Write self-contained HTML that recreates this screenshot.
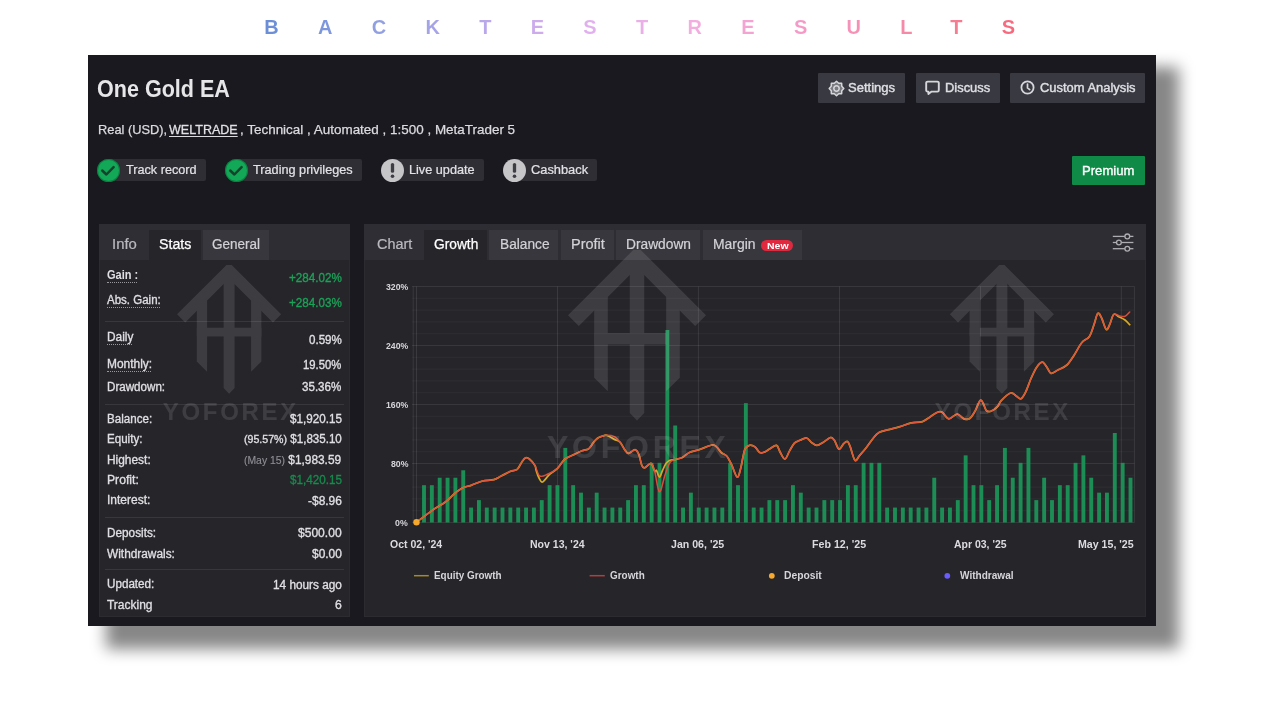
<!DOCTYPE html>
<html lang="en">
<head>
<meta charset="utf-8">
<title>Backtest Results - One Gold EA</title>
<style>
*{box-sizing:border-box;margin:0;padding:0}
html,body{width:1280px;height:720px;overflow:hidden;background:#ffffff}
body{position:relative;font-family:"Liberation Sans",Arial,sans-serif}
.abs,.t,.title,.dot,.box{position:absolute}
.t{white-space:pre;line-height:0;display:block;transform-origin:0 0}
.t u{text-decoration:underline;text-underline-offset:1.5px;-webkit-text-stroke:.3px #dcdce0}
.title{white-space:pre;line-height:0;font-weight:700;
  background:linear-gradient(90deg,#6a8ed6 0px,#8f9fe0 110px,#b7a7ea 215px,#e3b0ee 330px,#f3aee0 425px,#f59ac6 535px,#f58aa8 640px,#f67a8e 700px,#f7687c 751px);
  -webkit-background-clip:text;background-clip:text;color:transparent;height:40px;padding-top:20px;margin-top:-20px}
.panel{left:88px;top:55px;width:1068px;height:571px;background:#1a191f}
.shadow{left:106px;top:67px;width:1073.2px;height:581.5px;background:rgba(0,0,0,.47);filter:blur(7.5px)}
.inner{position:absolute;left:0;top:0;width:1280px;height:720px;filter:blur(.55px);clip-path:inset(56px 125px 95px 89px)}
.card{background:#26252a;box-shadow:inset 0 0 0 1px rgba(255,255,255,.03)}
.band{background:#2e2d33}
.tab{top:229.7px;height:30.3px}
.tab.off{background:#38373d}
.tab.dim{background:#2f2e34}
.tab.on{background:#26252a}
.btn{top:72.7px;height:30.8px;background:#393941;border-radius:1px}
.badge{top:159.2px;height:22.2px;background:#2f2e35;border-radius:0 2px 2px 0}
.circ{top:158.8px;width:23px;height:23px;border-radius:50%}
.sep{left:104.5px;width:239px;height:1px;background:rgba(255,255,255,.085)}
.dot{height:0;border-top:1px dotted rgba(230,230,234,.6)}
svg.chart{position:absolute;left:0;top:0;font-family:"Liberation Sans",Arial,sans-serif}
svg.ic{position:absolute;overflow:visible}
</style>
</head>
<body>
<h1 class="title" style="left:264.20px;top:27.47px;font-size:20px;letter-spacing:39.303px;word-spacing:-44.863px">BACKTEST RESULTS</h1>
<div class="box shadow"></div>
<div class="box panel"></div>
<div class="inner">

<!-- header buttons -->
<div class="box btn" style="left:818.2px;width:87px"></div>
<div class="box btn" style="left:915.8px;width:84.3px"></div>
<div class="box btn" style="left:1010px;width:135px"></div>
<div class="box" style="left:1072.2px;top:155.6px;width:72.8px;height:29.6px;background:#0f8a47;border-radius:1px"></div>

<!-- gear -->
<svg class="ic" style="left:828.5px;top:80.5px" width="15" height="15" viewBox="-7.5 -7.5 15 15">
  <polygon points="0.00,-7.30 2.18,-5.27 5.16,-5.16 5.27,-2.18 7.30,0.00 5.27,2.18 5.16,5.16 2.18,5.27 0.00,7.30 -2.18,5.27 -5.16,5.16 -5.27,2.18 -7.30,0.00 -5.27,-2.18 -5.16,-5.16 -2.18,-5.27" fill="rgba(220,220,226,.4)" stroke="#d6d6dc" stroke-width="1.5" stroke-linejoin="round"/>
  <circle r="2.7" fill="none" stroke="#d6d6dc" stroke-width="1.5"/>
</svg>
<!-- chat -->
<svg class="ic" style="left:925px;top:80px" width="16" height="16" viewBox="0 0 16 16">
  <path d="M2.6 1.6h9.8a1.4 1.4 0 0 1 1.4 1.4v7.2a1.4 1.4 0 0 1-1.4 1.4H6.6L3.4 14v-2.4h-.8a1.4 1.4 0 0 1-1.4-1.4V3a1.4 1.4 0 0 1 1.400-1.400z" fill="none" stroke="#d6d6dc" stroke-width="1.9" stroke-linejoin="round"/>
</svg>
<!-- clock -->
<svg class="ic" style="left:1020.3px;top:80px" width="15" height="15" viewBox="-7.5 -7.5 15 15">
  <circle r="6.1" fill="none" stroke="#d6d6dc" stroke-width="1.8"/>
  <path d="M0-3.4V.4l2.2 1.7" fill="none" stroke="#d6d6dc" stroke-width="1.7" stroke-linecap="round" stroke-linejoin="round"/>
</svg>

<!-- badges -->
<div class="box badge" style="left:109px;width:97px"></div>
<div class="box badge" style="left:236.3px;width:125.7px"></div>
<div class="box badge" style="left:392.8px;width:91.5px"></div>
<div class="box badge" style="left:514.7px;width:82.3px"></div>
<div class="box circ" style="left:97.4px;background:#12a857;box-shadow:inset 0 0 0 1px rgba(0,60,30,.35)"></div>
<div class="box circ" style="left:224.8px;background:#12a857;box-shadow:inset 0 0 0 1px rgba(0,60,30,.35)"></div>
<div class="box circ" style="left:381.3px;background:#c6c6c8"></div>
<div class="box circ" style="left:503.2px;background:#c6c6c8"></div>
<svg class="ic" style="left:97.4px;top:158.8px" width="23" height="23" viewBox="0 0 23 23"><path d="M5.2 11.5l4.2 4 7.2-7.4" fill="none" stroke="#17432c" stroke-width="2.5" stroke-linecap="round" stroke-linejoin="round"/></svg>
<svg class="ic" style="left:224.8px;top:158.8px" width="23" height="23" viewBox="0 0 23 23"><path d="M5.2 11.5l4.2 4 7.2-7.4" fill="none" stroke="#17432c" stroke-width="2.5" stroke-linecap="round" stroke-linejoin="round"/></svg>
<svg class="ic" style="left:381.3px;top:158.8px" width="23" height="23" viewBox="0 0 23 23"><path d="M11.5 5.6v6.6" stroke="#3d3d44" stroke-width="3.3" stroke-linecap="round"/><circle cx="11.5" cy="17.2" r="1.8" fill="#3d3d44"/></svg>
<svg class="ic" style="left:503.2px;top:158.8px" width="23" height="23" viewBox="0 0 23 23"><path d="M11.5 5.6v6.6" stroke="#3d3d44" stroke-width="3.3" stroke-linecap="round"/><circle cx="11.5" cy="17.2" r="1.8" fill="#3d3d44"/></svg>

<!-- stats card -->
<div class="box card" style="left:99px;top:224.2px;width:251px;height:393.3px"></div>
<div class="box band" style="left:99px;top:224.2px;width:251px;height:35.8px"></div>
<div class="box tab dim" style="left:99px;width:50.2px"></div>
<div class="box tab on" style="left:149.2px;width:51.5px"></div>
<div class="box tab off" style="left:202.9px;width:66.2px"></div>
<div class="box sep" style="top:320.6px"></div>
<div class="box sep" style="top:404.4px"></div>
<div class="box sep" style="top:517px"></div>
<div class="box sep" style="top:568.6px"></div>

<!-- chart card -->
<div class="box card" style="left:363.7px;top:224.2px;width:782.3px;height:393.3px"></div>
<div class="box band" style="left:363.7px;top:224.2px;width:782.3px;height:35.8px"></div>
<div class="box tab dim" style="left:363.7px;width:60.2px"></div>
<div class="box tab on" style="left:423.9px;width:63.5px"></div>
<div class="box tab off" style="left:488.9px;width:69.6px"></div>
<div class="box tab off" style="left:560.6px;width:53.2px"></div>
<div class="box tab off" style="left:616.1px;width:84.2px"></div>
<div class="box tab off" style="left:703px;width:99.3px"></div>
<div class="box" style="left:761px;top:239.7px;width:32.2px;height:11.8px;border-radius:6px;background:#e0283e"></div>

<svg class="chart" width="1280" height="720" viewBox="0 0 1280 720">
<g stroke-width="1" shape-rendering="auto"><line x1="412" x2="1134.4" y1="286.50" y2="286.50" stroke="#fff" stroke-opacity="0.085"/><line x1="412" x2="1134.4" y1="298.30" y2="298.30" stroke="#fff" stroke-opacity="0.045"/><line x1="412" x2="1134.4" y1="310.10" y2="310.10" stroke="#fff" stroke-opacity="0.045"/><line x1="412" x2="1134.4" y1="321.90" y2="321.90" stroke="#fff" stroke-opacity="0.045"/><line x1="412" x2="1134.4" y1="333.70" y2="333.70" stroke="#fff" stroke-opacity="0.045"/><line x1="412" x2="1134.4" y1="345.50" y2="345.50" stroke="#fff" stroke-opacity="0.085"/><line x1="412" x2="1134.4" y1="357.30" y2="357.30" stroke="#fff" stroke-opacity="0.045"/><line x1="412" x2="1134.4" y1="369.10" y2="369.10" stroke="#fff" stroke-opacity="0.045"/><line x1="412" x2="1134.4" y1="380.90" y2="380.90" stroke="#fff" stroke-opacity="0.045"/><line x1="412" x2="1134.4" y1="392.70" y2="392.70" stroke="#fff" stroke-opacity="0.045"/><line x1="412" x2="1134.4" y1="404.50" y2="404.50" stroke="#fff" stroke-opacity="0.085"/><line x1="412" x2="1134.4" y1="416.30" y2="416.30" stroke="#fff" stroke-opacity="0.045"/><line x1="412" x2="1134.4" y1="428.10" y2="428.10" stroke="#fff" stroke-opacity="0.045"/><line x1="412" x2="1134.4" y1="439.90" y2="439.90" stroke="#fff" stroke-opacity="0.045"/><line x1="412" x2="1134.4" y1="451.70" y2="451.70" stroke="#fff" stroke-opacity="0.045"/><line x1="412" x2="1134.4" y1="463.50" y2="463.50" stroke="#fff" stroke-opacity="0.085"/><line x1="412" x2="1134.4" y1="475.30" y2="475.30" stroke="#fff" stroke-opacity="0.045"/><line x1="412" x2="1134.4" y1="487.10" y2="487.10" stroke="#fff" stroke-opacity="0.045"/><line x1="412" x2="1134.4" y1="498.90" y2="498.90" stroke="#fff" stroke-opacity="0.045"/><line x1="412" x2="1134.4" y1="510.70" y2="510.70" stroke="#fff" stroke-opacity="0.045"/><line x1="412" x2="1134.4" y1="522.50" y2="522.50" stroke="#fff" stroke-opacity="0.085"/><line x1="413.2" x2="413.2" y1="286.5" y2="522.5" stroke="#fff" stroke-opacity="0.095"/><line x1="416.5" x2="416.5" y1="286.5" y2="522.5" stroke="#fff" stroke-opacity="0.095"/><line x1="557.5" x2="557.5" y1="286.5" y2="522.5" stroke="#fff" stroke-opacity="0.095"/><line x1="698.4" x2="698.4" y1="286.5" y2="522.5" stroke="#fff" stroke-opacity="0.095"/><line x1="839.5" x2="839.5" y1="286.5" y2="522.5" stroke="#fff" stroke-opacity="0.095"/><line x1="980.5" x2="980.5" y1="286.5" y2="522.5" stroke="#fff" stroke-opacity="0.095"/><line x1="1121.3" x2="1121.3" y1="286.5" y2="522.5" stroke="#fff" stroke-opacity="0.095"/><line x1="1134.4" x2="1134.4" y1="286.5" y2="522.5" stroke="#fff" stroke-opacity="0.095"/></g>
<g fill="#1c8d55"><rect x="422.05" y="485.20" width="3.9" height="37.30"/><rect x="429.90" y="485.20" width="3.9" height="37.30"/><rect x="437.75" y="477.74" width="3.9" height="44.76"/><rect x="445.60" y="477.74" width="3.9" height="44.76"/><rect x="453.45" y="477.74" width="3.9" height="44.76"/><rect x="461.30" y="470.28" width="3.9" height="52.22"/><rect x="469.15" y="507.58" width="3.9" height="14.92"/><rect x="477.00" y="500.12" width="3.9" height="22.38"/><rect x="484.85" y="507.58" width="3.9" height="14.92"/><rect x="492.70" y="507.58" width="3.9" height="14.92"/><rect x="500.55" y="507.58" width="3.9" height="14.92"/><rect x="508.40" y="507.58" width="3.9" height="14.92"/><rect x="516.25" y="507.58" width="3.9" height="14.92"/><rect x="524.10" y="507.58" width="3.9" height="14.92"/><rect x="531.95" y="507.58" width="3.9" height="14.92"/><rect x="539.80" y="500.12" width="3.9" height="22.38"/><rect x="547.65" y="485.20" width="3.9" height="37.30"/><rect x="555.50" y="485.20" width="3.9" height="37.30"/><rect x="563.35" y="447.90" width="3.9" height="74.60"/><rect x="571.20" y="485.20" width="3.9" height="37.30"/><rect x="579.05" y="492.66" width="3.9" height="29.84"/><rect x="586.90" y="507.58" width="3.9" height="14.92"/><rect x="594.75" y="492.66" width="3.9" height="29.84"/><rect x="602.60" y="507.58" width="3.9" height="14.92"/><rect x="610.45" y="507.58" width="3.9" height="14.92"/><rect x="618.30" y="507.58" width="3.9" height="14.92"/><rect x="626.15" y="500.12" width="3.9" height="22.38"/><rect x="634.00" y="485.20" width="3.9" height="37.30"/><rect x="641.85" y="485.20" width="3.9" height="37.30"/><rect x="649.70" y="462.82" width="3.9" height="59.68"/><rect x="657.55" y="462.82" width="3.9" height="59.68"/><rect x="665.40" y="330.03" width="3.9" height="192.47"/><rect x="673.25" y="425.52" width="3.9" height="96.98"/><rect x="681.10" y="507.58" width="3.9" height="14.92"/><rect x="688.95" y="492.66" width="3.9" height="29.84"/><rect x="696.80" y="507.58" width="3.9" height="14.92"/><rect x="704.65" y="507.58" width="3.9" height="14.92"/><rect x="712.50" y="507.58" width="3.9" height="14.92"/><rect x="720.35" y="507.58" width="3.9" height="14.92"/><rect x="728.20" y="462.82" width="3.9" height="59.68"/><rect x="736.05" y="485.20" width="3.9" height="37.30"/><rect x="743.90" y="403.14" width="3.9" height="119.36"/><rect x="751.75" y="507.58" width="3.9" height="14.92"/><rect x="759.60" y="507.58" width="3.9" height="14.92"/><rect x="767.45" y="500.12" width="3.9" height="22.38"/><rect x="775.30" y="500.12" width="3.9" height="22.38"/><rect x="783.15" y="500.12" width="3.9" height="22.38"/><rect x="791.00" y="485.20" width="3.9" height="37.30"/><rect x="798.85" y="492.66" width="3.9" height="29.84"/><rect x="806.70" y="507.58" width="3.9" height="14.92"/><rect x="814.55" y="507.58" width="3.9" height="14.92"/><rect x="822.40" y="500.12" width="3.9" height="22.38"/><rect x="830.25" y="500.12" width="3.9" height="22.38"/><rect x="838.10" y="500.12" width="3.9" height="22.38"/><rect x="845.95" y="485.20" width="3.9" height="37.30"/><rect x="853.80" y="485.20" width="3.9" height="37.30"/><rect x="861.65" y="462.82" width="3.9" height="59.68"/><rect x="869.50" y="462.82" width="3.9" height="59.68"/><rect x="877.35" y="462.82" width="3.9" height="59.68"/><rect x="885.20" y="507.58" width="3.9" height="14.92"/><rect x="893.05" y="507.58" width="3.9" height="14.92"/><rect x="900.90" y="507.58" width="3.9" height="14.92"/><rect x="908.75" y="507.58" width="3.9" height="14.92"/><rect x="916.60" y="507.58" width="3.9" height="14.92"/><rect x="924.45" y="507.58" width="3.9" height="14.92"/><rect x="932.30" y="477.74" width="3.9" height="44.76"/><rect x="940.15" y="507.58" width="3.9" height="14.92"/><rect x="948.00" y="507.58" width="3.9" height="14.92"/><rect x="955.85" y="500.12" width="3.9" height="22.38"/><rect x="963.70" y="455.36" width="3.9" height="67.14"/><rect x="971.55" y="485.20" width="3.9" height="37.30"/><rect x="979.40" y="485.20" width="3.9" height="37.30"/><rect x="987.25" y="500.12" width="3.9" height="22.38"/><rect x="995.10" y="485.20" width="3.9" height="37.30"/><rect x="1002.95" y="447.90" width="3.9" height="74.60"/><rect x="1010.80" y="477.74" width="3.9" height="44.76"/><rect x="1018.65" y="462.82" width="3.9" height="59.68"/><rect x="1026.50" y="447.90" width="3.9" height="74.60"/><rect x="1034.35" y="500.12" width="3.9" height="22.38"/><rect x="1042.20" y="477.74" width="3.9" height="44.76"/><rect x="1050.05" y="500.12" width="3.9" height="22.38"/><rect x="1057.90" y="485.20" width="3.9" height="37.30"/><rect x="1065.75" y="485.20" width="3.9" height="37.30"/><rect x="1073.60" y="462.82" width="3.9" height="59.68"/><rect x="1081.45" y="455.36" width="3.9" height="67.14"/><rect x="1089.30" y="477.74" width="3.9" height="44.76"/><rect x="1097.15" y="492.66" width="3.9" height="29.84"/><rect x="1105.00" y="492.66" width="3.9" height="29.84"/><rect x="1112.85" y="432.98" width="3.9" height="89.52"/><rect x="1120.70" y="462.82" width="3.9" height="59.68"/><rect x="1128.55" y="477.74" width="3.9" height="44.76"/></g>
<path d="M416.5 522.3C419.1 520.3 427.1 514.0 431.9 510.6C436.6 507.2 441.2 505.0 445.0 502.2C448.8 499.4 451.4 496.2 454.4 493.8C457.4 491.3 460.0 489.2 462.8 487.8C465.6 486.3 468.0 486.4 471.2 485.3C474.5 484.2 478.8 481.9 482.5 481.0C486.2 480.1 490.6 480.5 493.8 479.7C496.9 478.9 498.4 477.4 501.2 476.0C504.1 474.6 507.9 472.4 510.6 471.2C513.3 470.1 515.3 471.0 517.2 469.4C519.1 467.8 520.5 463.8 521.9 461.9C523.3 460.0 524.4 458.2 525.6 457.8C526.9 457.3 527.8 457.7 529.4 459.0C531.0 460.3 533.9 463.7 535.0 465.6C536.1 467.5 535.5 468.4 536.2 470.5C536.9 472.6 538.0 476.1 539.0 478.0C540.0 479.9 540.9 482.0 542.0 482.2C543.1 482.4 544.2 480.5 545.5 479.2C546.8 477.9 547.6 476.1 549.6 474.3C551.6 472.5 554.9 470.9 557.5 468.4C560.1 465.8 562.2 461.3 565.0 459.0C567.8 456.7 571.6 455.8 574.4 454.4C577.2 453.0 579.7 451.7 582.0 450.8C584.3 449.9 586.5 450.0 588.0 449.2C589.5 448.4 590.1 447.2 591.0 446.0C591.9 444.8 592.5 443.5 593.6 442.2C594.7 440.9 596.2 439.3 597.5 438.3C598.8 437.3 599.9 436.9 601.5 436.4C603.1 435.9 604.8 434.8 606.9 435.3C609.0 435.8 612.2 438.2 614.4 439.4C616.6 440.5 618.3 440.5 620.0 442.2C621.7 443.9 623.3 447.8 624.7 449.7C626.1 451.6 626.7 453.4 628.4 453.4C630.1 453.4 633.3 449.5 635.0 449.7C636.7 449.9 637.6 451.9 638.8 454.4C639.9 456.9 640.7 462.4 641.6 464.7C642.5 466.9 642.8 468.1 644.4 467.9C646.0 467.7 649.3 462.8 651.0 463.4C652.7 464.0 653.8 470.1 654.7 471.2C655.6 472.4 655.7 469.5 656.5 470.5C657.3 471.5 658.4 477.1 659.4 477.1C660.4 477.1 661.4 472.8 662.5 470.5C663.6 468.2 664.8 465.3 666.0 463.6C667.2 461.9 668.6 460.9 670.0 460.2C671.4 459.5 672.4 460.0 674.4 459.6C676.4 459.2 679.4 458.9 681.9 457.8C684.4 456.6 686.3 453.9 689.4 452.5C692.5 451.1 696.9 450.4 700.6 449.1C704.4 447.9 709.2 445.4 711.9 445.0C714.6 444.6 715.0 445.6 716.6 446.9C718.2 448.1 719.5 450.9 721.2 452.5C723.0 454.1 725.2 454.2 726.9 456.2C728.6 458.3 729.9 461.2 731.6 464.7C733.3 468.2 735.7 476.8 737.2 477.2C738.8 477.7 739.6 472.1 740.9 467.5C742.1 462.9 743.3 453.4 744.7 449.7C746.1 446.0 747.7 445.9 749.4 445.4C751.1 444.9 753.3 445.7 755.0 446.9C756.7 448.1 758.1 451.6 759.7 452.5C761.3 453.4 762.7 452.7 764.4 452.1C766.1 451.5 768.0 449.9 770.0 448.8C772.0 447.6 774.9 444.8 776.6 445.4C778.3 446.0 778.9 450.2 780.3 452.5C781.7 454.8 783.4 459.3 785.0 459.0C786.6 458.7 788.1 453.2 789.7 450.6C791.3 448.0 792.7 444.8 794.4 443.1C796.1 441.4 798.0 441.2 800.0 440.3C802.0 439.4 804.7 437.7 806.6 438.0C808.5 438.3 809.5 441.0 811.2 442.2C813.0 443.4 814.9 445.4 816.9 445.4C818.9 445.4 821.1 443.5 823.4 442.2C825.7 440.9 828.8 437.8 830.6 437.5C832.4 437.2 833.0 438.4 834.4 440.3C835.8 442.2 837.4 448.6 839.0 449.1C840.6 449.6 842.3 444.8 843.8 443.5C845.2 442.2 846.4 441.0 847.5 441.6C848.6 442.2 849.0 443.8 850.3 446.9C851.5 450.0 853.4 459.0 855.0 460.4C856.6 461.8 857.8 457.4 859.7 455.3C861.6 453.2 863.9 450.8 866.2 447.8C868.6 444.8 871.6 440.1 873.8 437.5C875.9 434.9 876.9 433.6 879.4 432.2C881.9 430.9 885.3 430.5 888.8 429.6C892.2 428.7 896.2 427.7 900.0 426.6C903.8 425.5 907.5 423.7 911.2 422.9C915.0 422.1 919.4 422.6 922.5 421.6C925.6 420.6 927.5 418.5 930.0 416.9C932.5 415.3 935.5 413.0 937.5 412.2C939.5 411.4 940.3 411.1 942.2 412.2C944.1 413.3 946.2 418.4 948.8 418.8C951.2 419.1 954.7 414.0 957.2 414.0C959.7 414.0 961.7 418.0 963.8 418.8C965.8 419.5 967.5 420.0 969.4 418.8C971.3 417.5 973.3 414.2 975.0 411.2C976.7 408.3 978.5 402.6 979.7 401.0C981.0 399.4 981.4 400.3 982.5 401.9C983.6 403.4 984.8 408.7 986.2 410.3C987.7 411.9 989.1 411.9 991.0 411.2C992.9 410.6 995.8 408.4 997.5 406.6C999.2 404.8 999.1 402.9 1001.2 400.6C1003.4 398.3 1008.1 393.8 1010.6 393.0C1013.1 392.2 1014.5 395.0 1016.2 396.0C1018.0 397.0 1019.4 399.4 1021.0 398.8C1022.6 398.1 1023.9 395.7 1025.6 392.2C1027.3 388.7 1029.4 382.2 1031.2 378.0C1033.1 373.8 1035.0 369.5 1036.9 366.9C1038.8 364.3 1040.8 362.0 1042.5 362.2C1044.2 362.4 1045.8 365.9 1047.2 367.8C1048.6 369.7 1049.3 373.0 1051.0 373.4C1052.7 373.8 1054.8 371.6 1057.5 370.2C1060.2 368.9 1064.1 367.6 1066.9 365.0C1069.7 362.4 1071.9 358.4 1074.4 354.7C1076.9 350.9 1079.4 345.5 1081.9 342.5C1084.4 339.5 1087.4 339.5 1089.4 336.5C1091.4 333.5 1092.6 328.6 1094.0 324.7C1095.4 320.8 1096.5 314.5 1097.8 313.4C1099.1 312.3 1100.2 315.3 1101.6 318.0C1103.0 320.7 1104.8 328.4 1106.2 329.4C1107.7 330.4 1108.8 326.2 1110.0 323.8C1111.2 321.2 1112.2 315.5 1113.8 314.4C1115.3 313.3 1117.5 316.1 1119.4 317.0C1121.3 317.9 1123.3 318.7 1125.0 320.0C1126.7 321.3 1128.9 323.9 1129.7 324.7" fill="none" stroke="#d4aa2a" stroke-width="1.75" stroke-linejoin="round" stroke-linecap="round"/>
<path d="M416.5 522.3C419.1 520.3 427.1 514.0 431.9 510.6C436.6 507.2 441.2 505.0 445.0 502.2C448.8 499.4 451.4 496.2 454.4 493.8C457.4 491.3 460.0 489.2 462.8 487.8C465.6 486.3 468.0 486.4 471.2 485.3C474.5 484.2 478.8 481.9 482.5 481.0C486.2 480.1 490.6 480.5 493.8 479.7C496.9 478.9 498.4 477.4 501.2 476.0C504.1 474.6 507.9 472.4 510.6 471.2C513.3 470.1 515.3 471.0 517.2 469.4C519.1 467.8 520.5 463.8 521.9 461.9C523.3 460.0 524.4 458.2 525.6 457.8C526.9 457.3 527.8 457.7 529.4 459.0C531.0 460.3 533.3 462.8 535.0 465.6C536.7 468.4 537.5 474.6 539.7 476.0C541.9 477.4 545.0 475.3 548.0 474.0C551.0 472.7 554.7 470.9 557.5 468.4C560.3 465.9 562.2 461.3 565.0 459.0C567.8 456.7 571.6 455.8 574.4 454.4C577.2 453.0 579.7 451.7 582.0 450.8C584.3 449.9 586.5 450.0 588.0 449.2C589.5 448.4 590.1 447.2 591.0 446.0C591.9 444.8 592.5 443.5 593.6 442.2C594.7 440.9 596.2 439.3 597.5 438.3C598.8 437.3 599.9 436.9 601.5 436.4C603.1 435.9 604.8 435.3 606.9 435.3C609.0 435.3 612.2 435.5 614.4 436.6C616.6 437.8 618.3 440.0 620.0 442.2C621.7 444.4 623.3 447.8 624.7 449.7C626.1 451.6 626.7 453.4 628.4 453.4C630.1 453.4 633.3 449.5 635.0 449.7C636.7 449.9 637.6 451.9 638.8 454.4C639.9 456.9 640.7 462.4 641.6 464.7C642.5 466.9 642.8 468.1 644.4 467.9C646.0 467.7 649.3 462.8 651.0 463.4C652.7 464.0 653.3 466.5 654.7 471.2C656.1 476.0 657.7 491.3 659.4 491.9C661.1 492.5 663.3 479.9 665.0 475.0C666.7 470.1 668.1 465.4 669.7 462.8C671.3 460.2 672.4 460.4 674.4 459.6C676.4 458.8 679.4 458.9 681.9 457.8C684.4 456.6 686.3 453.9 689.4 452.5C692.5 451.1 696.9 450.4 700.6 449.1C704.4 447.9 709.2 445.4 711.9 445.0C714.6 444.6 715.0 445.6 716.6 446.9C718.2 448.1 719.5 450.9 721.2 452.5C723.0 454.1 725.2 454.2 726.9 456.2C728.6 458.3 729.9 461.2 731.6 464.7C733.3 468.2 735.7 476.8 737.2 477.2C738.8 477.7 739.6 472.1 740.9 467.5C742.1 462.9 743.3 453.4 744.7 449.7C746.1 446.0 747.7 445.9 749.4 445.4C751.1 444.9 753.3 445.7 755.0 446.9C756.7 448.1 758.1 451.6 759.7 452.5C761.3 453.4 762.7 452.7 764.4 452.1C766.1 451.5 768.0 449.9 770.0 448.8C772.0 447.6 774.9 444.8 776.6 445.4C778.3 446.0 778.9 450.2 780.3 452.5C781.7 454.8 783.4 459.3 785.0 459.0C786.6 458.7 788.1 453.2 789.7 450.6C791.3 448.0 792.7 444.8 794.4 443.1C796.1 441.4 798.0 441.2 800.0 440.3C802.0 439.4 804.7 437.7 806.6 438.0C808.5 438.3 809.5 441.0 811.2 442.2C813.0 443.4 814.9 445.4 816.9 445.4C818.9 445.4 821.1 443.5 823.4 442.2C825.7 440.9 828.8 437.8 830.6 437.5C832.4 437.2 833.0 438.4 834.4 440.3C835.8 442.2 837.4 448.6 839.0 449.1C840.6 449.6 842.3 444.8 843.8 443.5C845.2 442.2 846.4 441.0 847.5 441.6C848.6 442.2 849.0 443.8 850.3 446.9C851.5 450.0 853.4 459.0 855.0 460.4C856.6 461.8 857.8 457.4 859.7 455.3C861.6 453.2 863.9 450.8 866.2 447.8C868.6 444.8 871.6 440.1 873.8 437.5C875.9 434.9 876.9 433.6 879.4 432.2C881.9 430.9 885.3 430.5 888.8 429.6C892.2 428.7 896.2 427.7 900.0 426.6C903.8 425.5 907.5 423.7 911.2 422.9C915.0 422.1 919.4 422.6 922.5 421.6C925.6 420.6 927.5 418.5 930.0 416.9C932.5 415.3 935.5 413.0 937.5 412.2C939.5 411.4 940.3 411.1 942.2 412.2C944.1 413.3 946.2 418.4 948.8 418.8C951.2 419.1 954.7 414.0 957.2 414.0C959.7 414.0 961.7 418.0 963.8 418.8C965.8 419.5 967.5 420.0 969.4 418.8C971.3 417.5 973.3 414.2 975.0 411.2C976.7 408.3 978.5 402.6 979.7 401.0C981.0 399.4 981.4 400.3 982.5 401.9C983.6 403.4 984.8 408.7 986.2 410.3C987.7 411.9 989.1 411.9 991.0 411.2C992.9 410.6 995.8 408.4 997.5 406.6C999.2 404.8 999.1 402.9 1001.2 400.6C1003.4 398.3 1008.1 393.8 1010.6 393.0C1013.1 392.2 1014.5 395.0 1016.2 396.0C1018.0 397.0 1019.4 399.4 1021.0 398.8C1022.6 398.1 1023.9 395.7 1025.6 392.2C1027.3 388.7 1029.4 382.2 1031.2 378.0C1033.1 373.8 1035.0 369.5 1036.9 366.9C1038.8 364.3 1040.8 362.0 1042.5 362.2C1044.2 362.4 1045.8 365.9 1047.2 367.8C1048.6 369.7 1049.3 373.0 1051.0 373.4C1052.7 373.8 1054.8 371.6 1057.5 370.2C1060.2 368.9 1064.1 367.6 1066.9 365.0C1069.7 362.4 1071.9 358.4 1074.4 354.7C1076.9 350.9 1079.4 345.5 1081.9 342.5C1084.4 339.5 1087.4 339.5 1089.4 336.5C1091.4 333.5 1092.6 328.6 1094.0 324.7C1095.4 320.8 1096.5 314.5 1097.8 313.4C1099.1 312.3 1100.2 315.3 1101.6 318.0C1103.0 320.7 1104.8 328.4 1106.2 329.4C1107.7 330.4 1108.8 326.2 1110.0 323.8C1111.2 321.2 1112.2 315.7 1113.8 314.4C1115.3 313.1 1117.5 315.6 1119.4 315.9C1121.3 316.2 1123.3 316.9 1125.0 316.2C1126.7 315.6 1128.9 312.7 1129.7 312.0" fill="none" stroke="#e2503b" stroke-opacity=".95" stroke-width="1.5" stroke-linejoin="round" stroke-linecap="round"/>
<circle cx="416.5" cy="522.3" r="3.2" fill="#f6a92c"/>
<line x1="414" x2="428.8" y1="575.7" y2="575.7" stroke="#a38c22" stroke-width="1.5"/>
<line x1="589.6" x2="604.8" y1="575.7" y2="575.7" stroke="#b53e3b" stroke-width="1.5"/>
<circle cx="771.8" cy="575.8" r="2.9" fill="#f6a92c"/>
<circle cx="947.3" cy="575.8" r="2.9" fill="#6a5cff"/>
<g stroke="#adadb1" stroke-width="1.3" fill="#2e2d33"><line x1="1112.8" x2="1133.4" y1="236.4" y2="236.4"/><line x1="1112.8" x2="1133.4" y1="242.5" y2="242.5"/><line x1="1112.8" x2="1133.4" y1="248.7" y2="248.7"/><circle cx="1127.3" cy="236.4" r="2.4"/><circle cx="1118.9" cy="242.5" r="2.4"/><circle cx="1127.3" cy="248.7" r="2.4"/></g>
</svg>
<i class="dot" style="left:107.2px;top:281.9px;width:30.0px"></i><i class="dot" style="left:107.2px;top:307.0px;width:52.5px"></i><i class="dot" style="left:107.2px;top:343.8px;width:25.2px"></i><i class="dot" style="left:107.2px;top:370.9px;width:43.9px"></i>
<span class="t" style="left:96.92px;top:89.18px;font-size:24px;font-weight:700;color:#e6e6e8;transform:scaleX(0.8979);">One Gold EA</span>
<span class="t" style="left:97.86px;top:130.20px;font-size:13px;font-weight:400;color:#dcdce0;transform:scaleX(0.9860);-webkit-text-stroke:.25px #dcdce0;">Real (USD),</span>
<span class="t" style="left:168.77px;top:130.20px;font-size:13px;font-weight:400;color:#e6e6ea;transform:scaleX(0.9640);"><u>WELTRADE</u></span>
<span class="t" style="left:239.53px;top:130.20px;font-size:13px;font-weight:400;color:#dcdce0;transform:scaleX(1.0345);-webkit-text-stroke:.25px #dcdce0;">, Technical , Automated , 1:500 , MetaTrader 5</span>
<span class="t" style="left:125.67px;top:170.10px;font-size:13px;font-weight:400;color:#e2e2e6;transform:scaleX(0.9740);-webkit-text-stroke:.22px #e2e2e6;">Track record</span>
<span class="t" style="left:252.97px;top:170.10px;font-size:13px;font-weight:400;color:#e2e2e6;transform:scaleX(0.9763);-webkit-text-stroke:.22px #e2e2e6;">Trading privileges</span>
<span class="t" style="left:409.27px;top:170.10px;font-size:13px;font-weight:400;color:#e2e2e6;transform:scaleX(0.9757);-webkit-text-stroke:.22px #e2e2e6;">Live update</span>
<span class="t" style="left:531.06px;top:170.10px;font-size:13px;font-weight:400;color:#e2e2e6;transform:scaleX(0.9877);-webkit-text-stroke:.22px #e2e2e6;">Cashback</span>
<span class="t" style="left:848.05px;top:88.10px;font-size:13px;font-weight:400;color:#dedee4;transform:scaleX(1.0025);-webkit-text-stroke:.45px #dedee4;">Settings</span>
<span class="t" style="left:944.75px;top:88.10px;font-size:13px;font-weight:400;color:#dedee4;transform:scaleX(0.9931);-webkit-text-stroke:.45px #dedee4;">Discuss</span>
<span class="t" style="left:1039.85px;top:88.10px;font-size:13px;font-weight:400;color:#dedee4;transform:scaleX(0.9938);-webkit-text-stroke:.45px #dedee4;">Custom Analysis</span>
<span class="t" style="left:1082.05px;top:170.50px;font-size:13px;font-weight:400;color:#ffffff;transform:scaleX(1.0074);-webkit-text-stroke:.35px #fff;">Premium</span>
<span class="t" style="left:112.46px;top:244.05px;font-size:14px;font-weight:400;color:#b9b9bf;transform:scaleX(1.0617);-webkit-text-stroke:.22px #b9b9bf;">Info</span>
<span class="t" style="left:158.79px;top:244.05px;font-size:14px;font-weight:400;color:#ffffff;transform:scaleX(1.0123);-webkit-text-stroke:.25px #fff;">Stats</span>
<span class="t" style="left:212.43px;top:244.05px;font-size:14px;font-weight:400;color:#d2d2d6;transform:scaleX(0.9636);-webkit-text-stroke:.22px #d2d2d6;">General</span>
<span class="t" style="left:377.28px;top:244.05px;font-size:14px;font-weight:400;color:#b9b9bf;transform:scaleX(1.0311);-webkit-text-stroke:.22px #b9b9bf;">Chart</span>
<span class="t" style="left:433.51px;top:244.05px;font-size:14px;font-weight:400;color:#ffffff;transform:scaleX(0.9817);-webkit-text-stroke:.25px #fff;">Growth</span>
<span class="t" style="left:499.82px;top:244.05px;font-size:14px;font-weight:400;color:#d2d2d6;transform:scaleX(0.9784);-webkit-text-stroke:.22px #d2d2d6;">Balance</span>
<span class="t" style="left:570.88px;top:244.05px;font-size:14px;font-weight:400;color:#d2d2d6;transform:scaleX(1.0340);-webkit-text-stroke:.22px #d2d2d6;">Profit</span>
<span class="t" style="left:625.71px;top:244.05px;font-size:14px;font-weight:400;color:#d2d2d6;transform:scaleX(0.9828);-webkit-text-stroke:.22px #d2d2d6;">Drawdown</span>
<span class="t" style="left:712.70px;top:244.05px;font-size:14px;font-weight:400;color:#d2d2d6;transform:scaleX(0.9954);-webkit-text-stroke:.22px #d2d2d6;">Margin</span>
<span class="t" style="left:766.77px;top:245.61px;font-size:9.5px;font-weight:700;color:#ffffff;transform:scaleX(1.1076);">New</span>
<span class="t" style="left:106.65px;top:274.74px;font-size:12px;font-weight:700;color:#e0e0e4;transform:scaleX(0.9172);">Gain :</span>
<span class="t" style="left:288.72px;top:278.04px;font-size:12px;font-weight:400;color:#1ba258;transform:scaleX(0.9708);-webkit-text-stroke:.32px #1ba258;">+284.02%</span>
<span class="t" style="left:106.62px;top:299.84px;font-size:12px;font-weight:400;color:#e0e0e4;transform:scaleX(0.9593);-webkit-text-stroke:.3px #e0e0e4;">Abs. Gain:</span>
<span class="t" style="left:288.72px;top:302.74px;font-size:12px;font-weight:400;color:#1ba258;transform:scaleX(0.9708);-webkit-text-stroke:.32px #1ba258;">+284.03%</span>
<span class="t" style="left:106.61px;top:336.64px;font-size:12px;font-weight:400;color:#e0e0e4;transform:scaleX(0.9898);-webkit-text-stroke:.3px #e0e0e4;">Daily</span>
<span class="t" style="left:308.72px;top:339.54px;font-size:12px;font-weight:400;color:#e0e0e4;transform:scaleX(0.9638);-webkit-text-stroke:.32px #e0e0e4;">0.59%</span>
<span class="t" style="left:106.60px;top:363.74px;font-size:12px;font-weight:400;color:#e0e0e4;transform:scaleX(0.9943);-webkit-text-stroke:.3px #e0e0e4;">Monthly:</span>
<span class="t" style="left:303.34px;top:364.84px;font-size:12px;font-weight:400;color:#e0e0e4;transform:scaleX(0.9385);-webkit-text-stroke:.32px #e0e0e4;">19.50%</span>
<span class="t" style="left:106.62px;top:387.24px;font-size:12px;font-weight:400;color:#e0e0e4;transform:scaleX(0.9678);-webkit-text-stroke:.3px #e0e0e4;">Drawdown:</span>
<span class="t" style="left:302.22px;top:387.24px;font-size:12px;font-weight:400;color:#e0e0e4;transform:scaleX(0.9655);-webkit-text-stroke:.32px #e0e0e4;">35.36%</span>
<span class="t" style="left:106.62px;top:418.94px;font-size:12px;font-weight:400;color:#e0e0e4;transform:scaleX(0.9657);-webkit-text-stroke:.3px #e0e0e4;">Balance:</span>
<span class="t" style="left:289.62px;top:419.14px;font-size:12px;font-weight:400;color:#e0e0e4;transform:scaleX(0.9721);-webkit-text-stroke:.32px #e0e0e4;">$1,920.15</span>
<span class="t" style="left:106.62px;top:439.24px;font-size:12px;font-weight:400;color:#e0e0e4;transform:scaleX(0.9649);-webkit-text-stroke:.3px #e0e0e4;">Equity:</span>
<span class="t" style="left:243.72px;top:439.44px;font-size:12px;font-weight:400;color:#e0e0e4;transform:scaleX(0.9649);-webkit-text-stroke:.32px #e0e0e4;"><span style="font-size:11px">(95.57%)</span> $1,835.10</span>
<span class="t" style="left:106.60px;top:459.84px;font-size:12px;font-weight:400;color:#e0e0e4;transform:scaleX(0.9925);-webkit-text-stroke:.3px #e0e0e4;">Highest:</span>
<span class="t" style="left:244.41px;top:460.04px;font-size:12px;font-weight:400;color:#e0e0e4;transform:scaleX(0.9892);-webkit-text-stroke:.32px #e0e0e4;"><span style="font-size:10.5px;color:#8d8d94;-webkit-text-stroke:.15px #8d8d94">(May 15)</span> $1,983.59</span>
<span class="t" style="left:106.59px;top:480.14px;font-size:12px;font-weight:400;color:#e0e0e4;transform:scaleX(1.0146);-webkit-text-stroke:.3px #e0e0e4;">Profit:</span>
<span class="t" style="left:289.62px;top:480.34px;font-size:12px;font-weight:400;color:#178a4d;transform:scaleX(0.9721);-webkit-text-stroke:.32px #178a4d;">$1,420.15</span>
<span class="t" style="left:106.60px;top:500.34px;font-size:12px;font-weight:400;color:#e0e0e4;transform:scaleX(0.9986);-webkit-text-stroke:.3px #e0e0e4;">Interest:</span>
<span class="t" style="left:307.60px;top:500.54px;font-size:12px;font-weight:400;color:#e0e0e4;transform:scaleX(0.9961);-webkit-text-stroke:.32px #e0e0e4;">-$8.96</span>
<span class="t" style="left:106.61px;top:533.04px;font-size:12px;font-weight:400;color:#e0e0e4;transform:scaleX(0.9814);-webkit-text-stroke:.3px #e0e0e4;">Deposits:</span>
<span class="t" style="left:297.90px;top:533.24px;font-size:12px;font-weight:400;color:#e0e0e4;transform:scaleX(1.0048);-webkit-text-stroke:.32px #e0e0e4;">$500.00</span>
<span class="t" style="left:106.61px;top:553.64px;font-size:12px;font-weight:400;color:#e0e0e4;transform:scaleX(0.9885);-webkit-text-stroke:.3px #e0e0e4;">Withdrawals:</span>
<span class="t" style="left:311.60px;top:553.84px;font-size:12px;font-weight:400;color:#e0e0e4;transform:scaleX(0.9956);-webkit-text-stroke:.32px #e0e0e4;">$0.00</span>
<span class="t" style="left:106.62px;top:584.34px;font-size:12px;font-weight:400;color:#e0e0e4;transform:scaleX(0.9712);-webkit-text-stroke:.3px #e0e0e4;">Updated:</span>
<span class="t" style="left:272.61px;top:584.54px;font-size:12px;font-weight:400;color:#e0e0e4;transform:scaleX(0.9834);-webkit-text-stroke:.32px #e0e0e4;">14 hours ago</span>
<span class="t" style="left:106.60px;top:604.54px;font-size:12px;font-weight:400;color:#e0e0e4;transform:scaleX(0.9983);-webkit-text-stroke:.3px #e0e0e4;">Tracking</span>
<span class="t" style="left:334.69px;top:604.74px;font-size:12px;font-weight:400;color:#e0e0e4;transform:scaleX(1.0168);-webkit-text-stroke:.32px #e0e0e4;">6</span>
<span class="t" style="left:385.87px;top:286.68px;font-size:9px;font-weight:700;color:#d6d6da;transform:scaleX(0.9639);">320%</span>
<span class="t" style="left:385.87px;top:346.18px;font-size:9px;font-weight:700;color:#d6d6da;transform:scaleX(0.9639);">240%</span>
<span class="t" style="left:385.87px;top:405.38px;font-size:9px;font-weight:700;color:#d6d6da;transform:scaleX(0.9639);">160%</span>
<span class="t" style="left:390.56px;top:464.18px;font-size:9px;font-weight:700;color:#d6d6da;transform:scaleX(0.9714);">80%</span>
<span class="t" style="left:395.36px;top:522.78px;font-size:9px;font-weight:700;color:#d6d6da;transform:scaleX(0.9758);">0%</span>
<span class="t" style="left:389.87px;top:544.53px;font-size:10px;font-weight:700;color:#dcdce0;transform:scaleX(1.0516);">Oct 02, '24</span>
<span class="t" style="left:529.87px;top:544.53px;font-size:10px;font-weight:700;color:#dcdce0;transform:scaleX(1.0528);">Nov 13, '24</span>
<span class="t" style="left:671.47px;top:544.53px;font-size:10px;font-weight:700;color:#dcdce0;transform:scaleX(1.0597);">Jan 06, '25</span>
<span class="t" style="left:812.17px;top:544.53px;font-size:10px;font-weight:700;color:#dcdce0;transform:scaleX(1.0660);">Feb 12, '25</span>
<span class="t" style="left:954.18px;top:544.53px;font-size:10px;font-weight:700;color:#dcdce0;transform:scaleX(1.0481);">Apr 03, '25</span>
<span class="t" style="left:1077.77px;top:544.53px;font-size:10px;font-weight:700;color:#dcdce0;transform:scaleX(1.0625);">May 15, '25</span>
<span class="t" style="left:434.31px;top:575.74px;font-size:10px;font-weight:700;color:#d6d6da;transform:scaleX(0.9891);">Equity Growth</span>
<span class="t" style="left:609.60px;top:575.74px;font-size:10px;font-weight:700;color:#d6d6da;transform:scaleX(0.9914);">Growth</span>
<span class="t" style="left:783.98px;top:575.74px;font-size:10px;font-weight:700;color:#d6d6da;transform:scaleX(1.0308);">Deposit</span>
<span class="t" style="left:959.70px;top:575.74px;font-size:10px;font-weight:700;color:#d6d6da;transform:scaleX(1.0066);">Withdrawal</span>
<svg class="chart wm" width="1280" height="720" viewBox="0 0 1280 720" aria-label="watermark">
<g transform="translate(229.10 262.30) scale(0.7540)" opacity="0.105" fill="#ffffff"><polygon points="-3.45,3.45 3.45,3.45 69,69 58.2,79.8 0,21.6 -58.2,79.8 -69,69"/><polygon points="-7.25,15 7.25,15 7.25,166.7 0,174.4 -7.25,166.7"/><polygon points="-42.8,52 -29.2,44 -29.2,145 -42.8,131.5"/><polygon points="42.8,52 29.2,44 29.2,145 42.8,131.5"/><rect x="-42.8" y="86.8" width="85.6" height="11.5"/></g>
<text x="162.78" y="419.60" font-size="24.00" font-weight="700" letter-spacing="2.680" fill="#fff" fill-opacity="0.115">YOFOREX</text>
<g transform="translate(637.00 246.20) scale(1.0000)" opacity="0.105" fill="#ffffff"><polygon points="-3.45,3.45 3.45,3.45 69,69 58.2,79.8 0,21.6 -58.2,79.8 -69,69"/><polygon points="-7.25,15 7.25,15 7.25,166.7 0,174.4 -7.25,166.7"/><polygon points="-42.8,52 -29.2,44 -29.2,145 -42.8,131.5"/><polygon points="42.8,52 29.2,44 29.2,145 42.8,131.5"/><rect x="-42.8" y="86.8" width="85.6" height="11.5"/></g>
<text x="547.04" y="457.50" font-size="32.00" font-weight="700" letter-spacing="3.742" fill="#fff" fill-opacity="0.115">YOFOREX</text>
<g transform="translate(1001.90 262.30) scale(0.7540)" opacity="0.105" fill="#ffffff"><polygon points="-3.45,3.45 3.45,3.45 69,69 58.2,79.8 0,21.6 -58.2,79.8 -69,69"/><polygon points="-7.25,15 7.25,15 7.25,166.7 0,174.4 -7.25,166.7"/><polygon points="-42.8,52 -29.2,44 -29.2,145 -42.8,131.5"/><polygon points="42.8,52 29.2,44 29.2,145 42.8,131.5"/><rect x="-42.8" y="86.8" width="85.6" height="11.5"/></g>
<text x="934.78" y="419.60" font-size="24.00" font-weight="700" letter-spacing="2.697" fill="#fff" fill-opacity="0.115">YOFOREX</text>
</svg>
</div>
</body>
</html>
